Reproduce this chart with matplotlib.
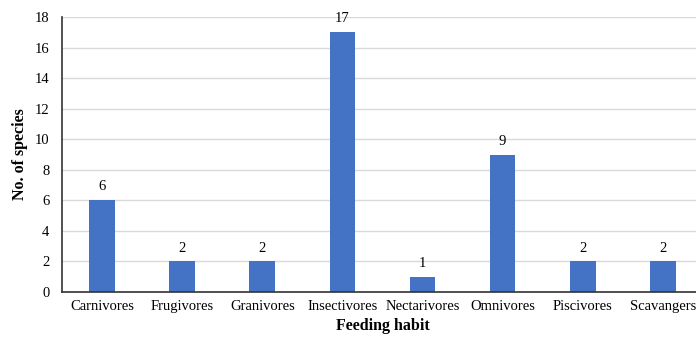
import matplotlib.pyplot as plt

plt.rcParams['font.family'] = ['Liberation Serif', 'DejaVu Serif']

habits = ['Carnivores', 'Frugivores', 'Granivores', 'Insectivores',
          'Nectarivores', 'Omnivores', 'Piscivores', 'Scavangers']
species = [6, 2, 2, 17, 1, 9, 2, 2]

fig = plt.figure(figsize=(6.96, 3.45), dpi=100)
ax = fig.add_axes([0.089, 0.1536, 0.921, 0.797])

x = range(len(habits))
bars = ax.bar(x, species, width=0.32, color='#4472C4', zorder=2)
for xi, v in zip(x, species):
    ax.text(xi, v + 0.45, str(v), ha='center', va='bottom', fontsize=10.5)

ax.set_xlim(-0.5, len(habits) - 0.5)
ax.set_ylim(0, 18)
ax.set_yticks(range(0, 19, 2))
ax.set_xticks(list(x))
ax.set_xticklabels(habits, fontsize=10.5)
ax.tick_params(axis='y', labelsize=10.5, length=0, pad=9)
ax.tick_params(axis='x', length=0, pad=6)
ax.grid(axis='y', color='#d9d9d9', linewidth=1, zorder=0)

for s in ['top', 'right']:
    ax.spines[s].set_visible(False)
ax.spines['left'].set_color('#333333')
ax.spines['bottom'].set_color('#333333')
ax.spines['left'].set_linewidth(1.2)
ax.spines['bottom'].set_linewidth(1.2)

ax.set_xlabel('Feeding habit', fontsize=11.5, fontweight='bold', labelpad=3)
ax.set_ylabel('No. of species', fontsize=11.5, fontweight='bold', labelpad=5)

plt.savefig('out.png', dpi=100)
